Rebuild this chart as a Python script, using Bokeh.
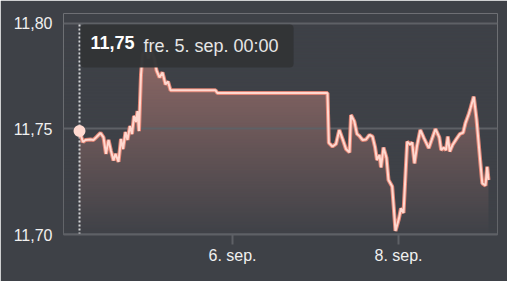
import numpy as np
import pandas as pd
from bokeh.plotting import figure
from bokeh.models import Range1d, FixedTicker, Label, ColumnDataSource
from bokeh.embed import file_html
from bokeh.resources import INLINE

# ---- data ----
start = pd.Timestamp("2025-09-04 03:45")
hours = [0, 1.01, 1.73, 3.18, 4.05, 4.92, 6.07, 6.94, 7.66, 8.39, 9.11, 9.83, 10.41, 11.28,
         12.0, 12.58, 13.30, 13.88, 14.60, 15.18, 15.76, 16.34, 16.77, 17.20, 17.78, 18.22,
         19.08, 19.95, 20.82, 21.69, 22.27, 23.13, 24.0, 24.87, 25.59, 26.31, 39.33, 39.90,
         71.71, 72.09, 73.16, 74.17, 75.12, 76.05, 77.06, 78.07, 78.51, 79.46, 80.24, 80.96,
         81.83, 82.84, 83.86, 84.72, 85.45, 86.02, 86.75, 87.18, 87.90, 88.77, 89.35, 90.42,
         91.37, 92.33, 92.96, 93.69, 94.76, 95.57, 96.20, 96.87, 97.59, 98.55, 99.61, 101.0,
         101.99, 102.94, 104.04, 104.59, 105.34, 105.98, 106.50, 107.08, 107.86, 109.01,
         109.97, 110.95, 111.61, 112.57, 113.06, 114.01, 114.80, 115.95, 116.47, 117.40,
         117.89, 118.26]
prices = [11.749, 11.7438, 11.7448, 11.745, 11.7448, 11.7462, 11.7481, 11.746, 11.7382, 11.7448,
          11.7396, 11.7351, 11.7382, 11.7344, 11.7453, 11.7405, 11.7486, 11.7448, 11.7514, 11.7476,
          11.7562, 11.7533, 11.7585, 11.749, 11.7756, 11.785, 11.7882, 11.7834, 11.787, 11.7829,
          11.7777, 11.7744, 11.7768, 11.7711, 11.7725, 11.7683, 11.7683, 11.767, 11.767, 11.7434,
          11.7417, 11.7429, 11.7495, 11.7453, 11.7405, 11.7389, 11.7566, 11.7536, 11.7476, 11.7467,
          11.7448, 11.745, 11.7472, 11.7464, 11.7415, 11.7353, 11.7377, 11.7318, 11.7412, 11.7363,
          11.7258, 11.7227, 11.7017, 11.7073, 11.7124, 11.7102, 11.744, 11.7426, 11.7436, 11.7337,
          11.7419, 11.7495, 11.7456, 11.7409, 11.7456, 11.75, 11.746, 11.74, 11.7412, 11.74,
          11.7464, 11.7393, 11.7424, 11.7453, 11.7476, 11.7483, 11.7528, 11.7571, 11.7598, 11.7653,
          11.7547, 11.7334, 11.7242, 11.7232, 11.7321, 11.7258]
assert len(hours) == len(prices)

y_ticks = [11.70, 11.75, 11.80]
y_labels = ["11,70", "11,75", "11,80"]
x_tick_dates = ["2025-09-06", "2025-09-08"]
x_tick_labels = ["6. sep.", "8. sep."]
tooltip_value = "11,75"
tooltip_date = "fre. 5. sep. 00:00"

# ---- styling ----
BG = "#3e4147"
GRID = "#5e6166"
TXT = "#f0f0f0"
FONT = "Liberation Sans"

times = start + pd.to_timedelta(hours, unit="h")
src = ColumnDataSource(dict(t=times, p=prices))

x0 = start - pd.Timedelta(hours=4.63)
x1 = start + pd.Timedelta(hours=120.87)
y_end = 11.8047

p = figure(width=507, height=281, x_axis_type="datetime", output_backend="svg",
           toolbar_location=None, x_range=Range1d(x0, x1), y_range=Range1d(y_ticks[0], y_end),
           min_border_left=63, min_border_right=10, min_border_top=13, min_border_bottom=47)
p.background_fill_color = BG
p.border_fill_color = BG
p.outline_line_color = None
p.grid.visible = False

# area fill (solid), then a background-coloured vertical fade over it
TOP_A = 0.52
p.varea(x="t", y1=y_ticks[0], y2="p", source=src, fill_color="#f29a8c", fill_alpha=TOP_A)
N = 240
vals = y_ticks[0] + (np.arange(N) + 0.5) * (y_end - y_ticks[0]) / N
eff = np.clip(5.2 * (vals - y_ticks[0]), 0, TOP_A)
b = np.clip(1 - eff / TOP_A, 0, 1)
img = np.zeros((N, 1), dtype=np.uint32)
view = img.view(dtype=np.uint8).reshape((N, 1, 4))
view[:, 0, 0] = 62
view[:, 0, 1] = 65
view[:, 0, 2] = 71
view[:, 0, 3] = (b * 255).astype(np.uint8)
x0_ms = x0.value / 1e6
x1_ms = x1.value / 1e6
p.image_rgba(image=[img], x=x0_ms, y=y_ticks[0], dw=x1_ms - x0_ms, dh=y_end - y_ticks[0])

# gridlines
p.hspan(y=y_ticks, line_color=GRID, line_width=2)

# hover marker line
t0 = times[0]
p.segment(x0=[t0], y0=[y_ticks[0]], x1=[t0], y1=[y_ticks[-1]], line_color="#d6d7d9",
          line_width=2, line_dash="2 2")

# price line
p.line("t", "p", source=src, line_color="#f08a78", line_width=4, line_alpha=0.9)
p.line("t", "p", source=src, line_color="#ffd8cf", line_width=2)
p.scatter([t0], [prices[0]], size=12, color="#ffd9d0", line_color=None)

# axes
p.yaxis.ticker = FixedTicker(ticks=y_ticks)
p.yaxis.major_label_overrides = dict(zip(y_ticks, y_labels))
p.yaxis.axis_line_color = None
p.yaxis.major_tick_line_color = None
p.yaxis.minor_tick_line_color = None
p.yaxis.major_label_standoff = 5
p.yaxis.major_label_text_font = FONT
p.yaxis.major_label_text_font_size = "16px"
p.yaxis.major_label_text_color = TXT

tick_ms = [int(pd.Timestamp(d).value // 10**6) for d in x_tick_dates]
p.xaxis.ticker = FixedTicker(ticks=tick_ms)
p.xaxis.major_label_overrides = dict(zip(tick_ms, x_tick_labels))
p.xaxis.axis_line_color = GRID
p.xaxis.axis_line_width = 2
p.xaxis.major_tick_line_color = GRID
p.xaxis.major_tick_line_width = 2
p.xaxis.major_tick_out = 10
p.xaxis.major_tick_in = 0
p.xaxis.minor_tick_line_color = None
p.xaxis.major_label_standoff = 2
p.xaxis.major_label_text_font = FONT
p.xaxis.major_label_text_font_size = "16px"
p.xaxis.major_label_text_color = TXT

# tooltip
box = Label(x=t0, y=y_ticks[-1], x_offset=1, y_offset=-1, anchor="top_left",
            text=tooltip_date, text_font=FONT, text_font_size="18px", text_color="#e6e6e6",
            background_fill_color="#323436", background_fill_alpha=0.97,
            border_radius=4, padding=dict(left=63, right=15, top=12, bottom=11))
bold = Label(x=t0, y=y_ticks[-1], x_offset=1, y_offset=-1, anchor="top_left",
             text=tooltip_value, text_font=FONT, text_font_size="18px", text_font_style="bold",
             text_color="#ffffff", padding=dict(left=10, right=0, top=12, bottom=11))
p.add_layout(box)
p.add_layout(bold)

open("out.html", "w").write(file_html(p, INLINE))
